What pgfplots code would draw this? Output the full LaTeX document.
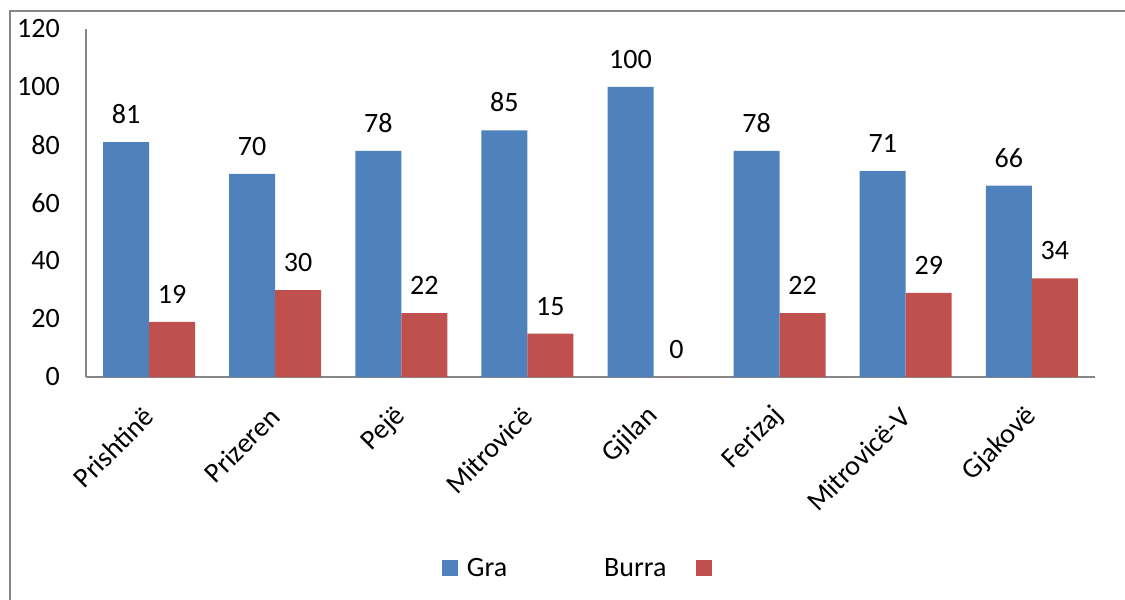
\documentclass[border=0pt]{standalone}
\usepackage{fontspec}
\setmainfont{Carlito}
\usepackage{pgfplots}
\pgfplotsset{compat=1.18}
\definecolor{graBlue}{HTML}{4F81BD}
\definecolor{burraRed}{HTML}{C0504D}
\definecolor{axisGray}{HTML}{868686}
\newcommand{\lbl}{\fontsize{28}{34}\selectfont}
\begin{document}
\begin{tikzpicture}
\useasboundingbox (0pt,0pt) rectangle (1125pt,600pt);
% outer chart frame (right and bottom edges cropped away)
\draw[axisGray, line width=2.5pt] (10pt,0pt) -- (10pt,589pt) -- (1125pt,589pt);
\begin{axis}[
    at={(86pt,223pt)}, anchor=south west,
    scale only axis,
    width=1009pt, height=348pt,
    ymin=0, ymax=120, ytick={0,20,...,120},
    xmin=-0.5, xmax=7.5,
    xtick={0,...,7},
    xticklabels={Prishtinë,Prizeren,Pejë,Mitrovicë,Gjilan,Ferizaj,Mitrovicë-V,Gjakovë},
    axis x line*=bottom, axis y line*=left,
    axis line style={draw=axisGray, line width=2.7pt},
    major tick length=0pt,
    /pgf/number format/assume math mode=true,
    yticklabel style={font=\lbl, anchor=east, inner sep=0pt, xshift=-26pt},
    xticklabel style={font=\lbl, yshift=-35pt, rotate=45, anchor=east, inner sep=0pt},
    ybar, bar width=46pt,
    nodes near coords,
    nodes near coords style={font=\lbl, inner sep=0pt, anchor=base, yshift=18.5pt, black},
    legend columns=3,
    legend style={draw=none, fill=none, inner sep=0pt, outer sep=0pt,
        at={(0.3528,-0.5489)}, anchor=west, font=\lbl,
        nodes={inner sep=0pt},
        /tikz/column 1/.style={column sep=9pt},
        /tikz/column 2/.style={column sep=97pt},
        /tikz/column 3/.style={column sep=0pt},
        /tikz/column 4/.style={column sep=29pt},
        /tikz/column 5/.style={column sep=0pt}},
]
\addplot[draw=none, fill=graBlue, bar shift=-23pt,
    legend image code/.code={\fill[graBlue] (0pt,-8pt) rectangle (16pt,8pt);}]
    coordinates {(0,81) (1,70) (2,78) (3,85) (4,100) (5,78) (6,71) (7,66)};
\addlegendentry{Gra}
\addlegendimage{empty legend}
\addlegendentry{Burra}
\addplot[draw=none, fill=burraRed, bar shift=23pt,
    legend image code/.code={\fill[burraRed] (0pt,-8pt) rectangle (16pt,8pt);}]
    coordinates {(0,19) (1,30) (2,22) (3,15) (4,0) (5,22) (6,29) (7,34)};
\addlegendentry{}
\end{axis}
\end{tikzpicture}
\end{document}
